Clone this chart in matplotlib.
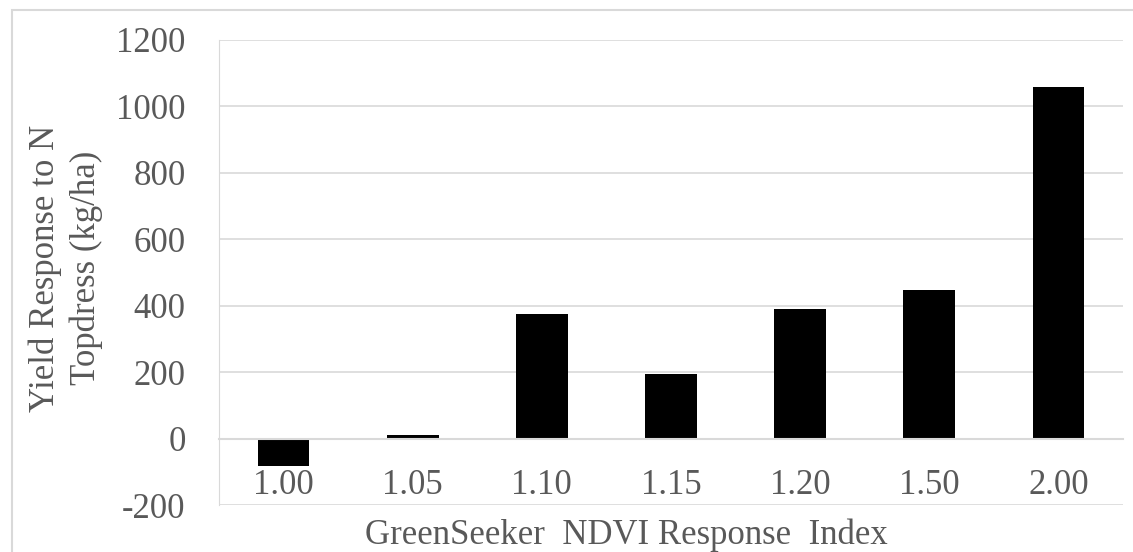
import matplotlib
matplotlib.use('Agg')
import matplotlib.pyplot as plt
from matplotlib.patches import Rectangle

categories = ['1.00', '1.05', '1.10', '1.15', '1.20', '1.50', '2.00']
response = [-82, 12, 374, 193, 389, 446, 1060]
yticks = [-200, 0, 200, 400, 600, 800, 1000, 1200]

plt.rcParams['font.family'] = ['Liberation Serif', 'DejaVu Serif']
txt = '#595959'
grid = '#d9d9d9'
fs = 25

W, H = 1133, 552
fig = plt.figure(figsize=(W / 100, H / 100), dpi=100)
ax = fig.add_axes([219 / W, 1 - 505 / H, (1123 - 219) / W, (505 - 40) / H])

x = list(range(len(categories)))
ax.bar(x, response, width=0.4, color='black', zorder=3)

ax.set_ylim(-200, 1200)
ax.set_xlim(-0.5, len(categories) - 0.5)
ax.grid(axis='y', color=grid, linewidth=1.2, zorder=0)
for s in ['top', 'right']:
    ax.spines[s].set_visible(False)
ax.spines['left'].set_color(grid)
ax.spines['bottom'].set_position(('data', 0))
ax.spines['bottom'].set_color(grid)
ax.spines['bottom'].set_linewidth(1.5)
ax.spines['bottom'].set_zorder(4)

ax.set_yticks(yticks)
ax.set_yticklabels([str(v) for v in yticks])
ax.set_xticks(x)
ax.set_xticklabels(categories)
ax.tick_params(axis='both', length=0, labelsize=fs, labelcolor=txt)
ax.tick_params(axis='y', pad=24)
ax.tick_params(axis='x', pad=22)

fig.text(66 / W, 1 - 268 / H, 'Yield Response to N\nTopdress (kg/ha)', rotation=90,
         ha='center', va='center', fontsize=fs, color=txt, linespacing=1.3)
fig.text(626 / W, 1 - 535 / H, 'GreenSeeker  NDVI Response  Index',
         ha='center', va='center', fontsize=fs, color=txt)

fig.patches.append(Rectangle((12 / W, -0.1), 1.1, 1 - 10 / H + 0.1,
                             transform=fig.transFigure, fill=False,
                             edgecolor=grid, linewidth=1.5))

fig.savefig('out.png', dpi=100)
